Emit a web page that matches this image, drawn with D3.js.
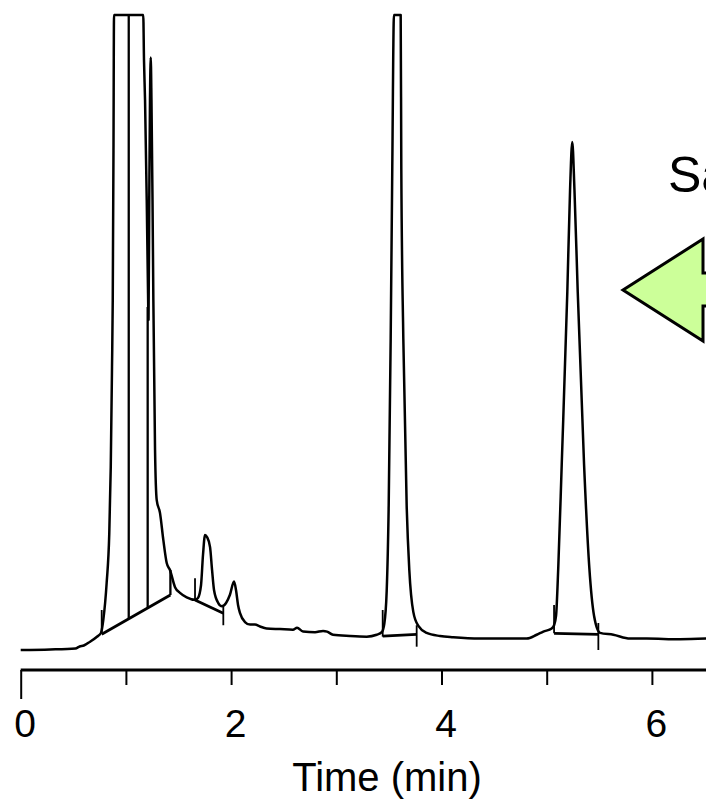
<!DOCTYPE html>
<html>
<head>
<meta charset="utf-8">
<script src="https://cdn.jsdelivr.net/npm/d3@7"></script>
<style>
  html, body { margin: 0; padding: 0; background: #fff; }
  svg { display: block; }
  text { font-family: "Liberation Sans", Arial, Helvetica, sans-serif; fill: #000; }
</style>
</head>
<body>
<svg id="chart" width="706" height="802"></svg>
<script>
// ---- Data (time in min, signal in relative units, clipped at 100) ----
const times = [0.00, 0.28, 0.52, 0.56, 0.60, 0.66, 0.725, 0.763, 0.785, 0.817,
  0.842, 0.856, 0.868, 0.875, 0.882, 0.887, 1.165, 1.172, 1.182, 1.198,
  1.210, 1.215, 1.222, 1.229, 1.236, 1.243, 1.253, 1.261, 1.277, 1.293,
  1.324, 1.356, 1.388, 1.419, 1.467, 1.514, 1.578, 1.657, 1.685, 1.714,
  1.733, 1.752, 1.771, 1.800, 1.819, 1.838, 1.878, 1.913, 1.952, 1.989,
  2.028, 2.047, 2.066, 2.085, 2.132, 2.18, 2.227, 2.275, 2.338, 2.465,
  2.588, 2.627, 2.684, 2.798, 2.874, 2.912, 2.969, 3.13, 3.289, 3.384,
  3.432, 3.456, 3.479, 3.498, 3.517, 3.532, 3.548, 3.612, 3.618, 3.637,
  3.669, 3.694, 3.732, 3.78, 3.859, 3.986, 4.112, 4.366, 4.81, 4.905,
  4.968, 5.048, 5.07, 5.089, 5.11, 5.143, 5.196, 5.222, 5.243, 5.264,
  5.295, 5.355, 5.405, 5.450, 5.507, 5.633, 5.792, 5.951, 6.267, 6.52];
const signal = [0.0, 0.08, 0.24, 0.55, 0.71, 1.31, 2.09, 2.68, 4.72, 10.55,
  18.4, 28.8, 44.6, 55.1, 78.7, 100, 100, 92.9, 86.6, 70.9,
  56.7, 52.0, 70.9, 86.6, 93.3, 86.6, 70.9, 55.1, 31.5, 23.6,
  21.6, 17.3, 13.7, 12.6, 9.9, 9.0, 8.3, 7.9, 8.2, 10.2,
  15.0, 18.1, 17.8, 16.2, 12.6, 9.4, 7.4, 6.9, 7.4, 8.7,
  10.8, 9.4, 7.1, 5.8, 4.4, 4.0, 4.0, 3.7, 3.4, 3.3,
  3.2, 3.5, 2.9, 2.8, 3.0, 2.9, 2.4, 2.2, 2.1, 2.4,
  2.8, 4.1, 9.3, 22.7, 49.1, 75.7, 100, 100, 75.7, 49.1,
  22.7, 12.6, 6.0, 3.8, 2.7, 2.2, 2.0, 1.8, 1.8, 2.4,
  2.9, 3.4, 3.9, 5.4, 13.0, 29.3, 56.4, 72.4, 80.0, 72.4,
  56.4, 29.3, 13.0, 5.4, 2.7, 2.4, 1.8, 1.8, 1.7, 1.8];

// integration baselines
const baseStartT = [0.770, 1.657, 3.441, 5.070];
const baseStartS = [2.47, 7.87, 2.2, 2.63];
const baseEndT   = [1.423, 1.926, 3.764, 5.491];
const baseEndS   = [8.66, 5.78, 2.47, 2.47];

// drop lines (peak separators)
const dropT    = [1.027, 1.207, 1.423];
const dropLowS = [4.98, 6.65, 8.66];
const dropTopS = [100, 54.0, 12.6];

// peak start / end markers
const markT    = [0.770, 1.657, 3.441, 5.070, 1.926, 3.764, 5.491];
const markLowS = [2.68, 7.87, 2.1, 2.63, 3.9, 0.52, 0.0];
const markTopS = [6.3, 11.3, 6.3, 7.1, 7.1, 3.9, 4.25];

const tickValues = [0, 1, 2, 3, 4, 5, 6];
const tickLabels = ["0", "", "2", "", "4", "", "6"];
const axisTitle = "Time (min)";
const annotation = "Sa";

// ---- Scales ----
const svg = d3.select("#chart");
const x = d3.scaleLinear().domain([0, 6.52]).range([20.7, 706.6]);
const y = d3.scaleLinear().domain([0, 100]).range([650, 15]);

// ---- Trace ----
const pts = times.map((t, i) => [t, signal[i]]);
const line = d3.line().x(d => x(d[0])).y(d => y(d[1])).curve(d3.curveMonotoneX);
svg.append("path").datum(pts)
  .attr("d", line).attr("fill", "none").attr("stroke", "#000")
  .attr("stroke-width", 2.5).attr("stroke-linejoin", "round");

// baselines
svg.selectAll("line.base").data(baseStartT).enter().append("line")
  .attr("class", "base")
  .attr("x1", (d) => x(d)).attr("y1", (d, i) => y(baseStartS[i]))
  .attr("x2", (d, i) => x(baseEndT[i])).attr("y2", (d, i) => y(baseEndS[i]))
  .attr("stroke", "#000").attr("stroke-width", 2.8);

// drop lines
svg.selectAll("line.drop").data(dropT).enter().append("line")
  .attr("class", "drop")
  .attr("x1", d => x(d)).attr("x2", d => x(d))
  .attr("y1", (d, i) => y(dropLowS[i])).attr("y2", (d, i) => y(dropTopS[i]))
  .attr("stroke", "#000").attr("stroke-width", 2.3);

// markers
svg.selectAll("line.mark").data(markT).enter().append("line")
  .attr("class", "mark")
  .attr("x1", d => x(d)).attr("x2", d => x(d))
  .attr("y1", (d, i) => y(markLowS[i])).attr("y2", (d, i) => y(markTopS[i]))
  .attr("stroke", "#000").attr("stroke-width", 1.8);

// ---- Axis ----
const axisY = 670;
const axis = d3.axisBottom(x).tickValues(tickValues).tickSize(15).tickSizeOuter(0)
  .tickFormat((d, i) => tickLabels[i]);
const gAxis = svg.append("g").attr("transform", `translate(0,${axisY})`).call(axis);
gAxis.select(".domain").attr("stroke", "#000").attr("stroke-width", 3)
  .attr("d", `M${x(0)},0H706`);
gAxis.selectAll(".tick line").attr("stroke", "#000").attr("stroke-width", 2)
  .attr("y2", d => d === 0 ? 29 : 15);
gAxis.selectAll(".tick text")
  .attr("y", 67).attr("dy", 0).attr("dx", 4)
  .attr("font-size", 39).attr("font-family", null);

svg.append("text").attr("x", 387).attr("y", 791)
  .attr("text-anchor", "middle").attr("font-size", 40).text(axisTitle);

// ---- Annotation (clipped at right edge, as in the reference) ----
svg.append("text").attr("x", 668).attr("y", 192)
  .attr("font-size", 50).text(annotation);

svg.append("path")
  .attr("d", "M623,290 L703,239 L703,273 L712,273 L712,306 L703,306 L703,341 Z")
  .attr("fill", "#ccff99").attr("stroke", "#000").attr("stroke-width", 3)
  .attr("stroke-linejoin", "miter");
</script>
</body>
</html>
